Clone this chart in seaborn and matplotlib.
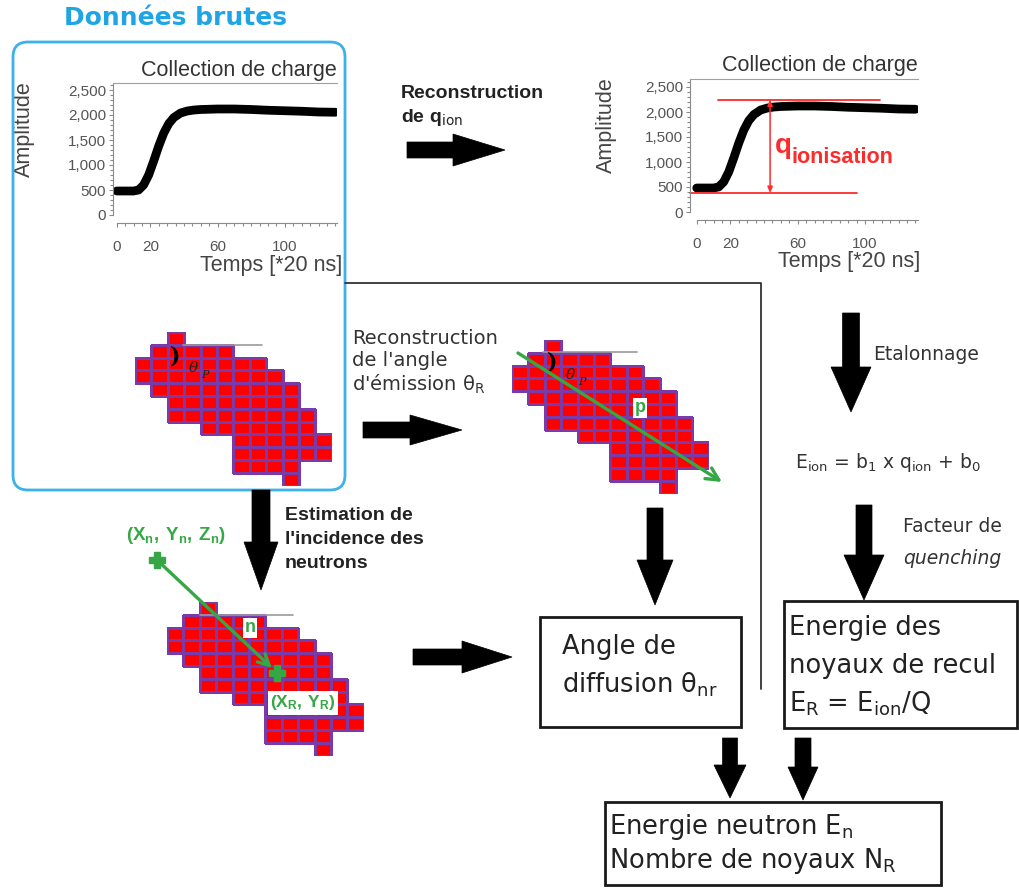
import numpy as np
import pandas as pd
import matplotlib
matplotlib.use("Agg")
import matplotlib.pyplot as plt
import seaborn as sns
from matplotlib.patches import FancyArrow, FancyBboxPatch, Rectangle
from matplotlib.colors import ListedColormap, to_rgba
from matplotlib.ticker import MultipleLocator, FixedLocator, FuncFormatter

# ---------------- data ----------------
temps = [0, 5, 10, 13, 16, 19, 22, 25, 28, 31, 34, 38, 42, 46, 50, 55, 60,
         70, 80, 90, 100, 110, 120, 130]
amplitude = [480, 480, 480, 500, 600, 800, 1080, 1380, 1640, 1830, 1950, 2040,
             2080, 2100, 2110, 2115, 2120, 2120, 2110, 2095, 2085, 2075, 2060, 2055]
y_tick_values = [0, 500, 1000, 1500, 2000, 2500]
x_tick_values = [0, 20, 60, 100]
q_top, q_base, q_x = 2248, 380, 43.6
q_top_span = (12.7, 109)
q_base_span = (-4, 95)
# pixel cluster: for each row, [first column, last column + 1)
cluster_rows = [(2, 3), (1, 6), (0, 8), (0, 9), (1, 10), (2, 10), (2, 11),
                (4, 11), (6, 12), (6, 12), (6, 10), (9, 10)]

W, H = 1019, 891
sns.set_style("white")
plt.rcParams['font.family'] = ['Liberation Sans', 'DejaVu Sans']
plt.rcParams['mathtext.fontset'] = 'custom'
plt.rcParams['mathtext.rm'] = 'DejaVu Sans'
plt.rcParams['mathtext.it'] = 'DejaVu Sans:italic'
plt.rcParams['mathtext.bf'] = 'Liberation Sans:bold'
plt.rcParams['mathtext.sf'] = 'DejaVu Sans'

fig = plt.figure(figsize=(W / 100, H / 100), dpi=100)
fig.patch.set_facecolor('white')


def rect(x0, y0, w, h):
    return [x0 / W, 1 - (y0 + h) / H, w / W, h / H]


GRAY = '#8a8a8a'
TXT = '#222222'


def charge_plot(x0, y0, w, h, xlim, ylim, title_pad, ylab_xy, xlab_xy):
    ax = fig.add_axes(rect(x0, y0, w, h))
    df = pd.DataFrame({'t': temps, 'a': amplitude})
    sns.lineplot(data=df, x='t', y='a', ax=ax, color='black', lw=6.3,
                 solid_capstyle='round')
    ax.set_xlim(*xlim)
    ax.set_ylim(*ylim)
    ax.set_facecolor('none')
    ax.spines['right'].set_visible(False)
    ax.spines['top'].set_color('#a0a0a0')
    ax.spines['left'].set_color(GRAY)
    ax.spines['bottom'].set_color(GRAY)
    ax.spines['bottom'].set_position(('outward', 5.8))
    ax.spines['bottom'].set_bounds(0, xlim[1])
    ax.yaxis.set_major_locator(FixedLocator(y_tick_values))
    ax.yaxis.set_minor_locator(MultipleLocator(100))
    ax.yaxis.set_major_formatter(FuncFormatter(lambda v, p: f"{int(v):,}"))
    ax.xaxis.set_major_locator(FixedLocator(x_tick_values))
    ax.xaxis.set_minor_locator(MultipleLocator(5))
    ax.tick_params(which='both', bottom=True, left=True, direction='out',
                   color=GRAY, width=0.8)
    ax.tick_params(which='major', length=3, labelsize=11, labelcolor='#555555')
    ax.tick_params(axis='x', which='major', pad=9)
    ax.tick_params(axis='y', which='major', pad=2)
    ax.tick_params(which='minor', length=2)
    ax.set_title('Collection de charge', loc='right', fontsize=15.5,
                 color='#333333', pad=title_pad)
    ax.set_ylabel('Amplitude', fontsize=15.5, color='#444444')
    ax.yaxis.set_label_coords(*ylab_xy)
    ax.set_xlabel('Temps [*20 ns]', fontsize=15.5, color='#444444', ha='right')
    ax.xaxis.set_label_coords(*xlab_xy)
    return ax


ax1 = charge_plot(113, 83, 224, 132, (-2.2, 131), (0, 2640), 5,
                  (-0.35, 0.65), (1.022, -0.30))
ax2 = charge_plot(690, 79, 228, 133, (-4, 131.5), (0, 2660), 6,
                  (-0.32, 0.654), (1.009, -0.29))

red = '#ff2a2a'
ax2.plot(list(q_top_span), [q_top, q_top], color=red, lw=1.3, clip_on=False)
ax2.plot(list(q_base_span), [q_base, q_base], color=red, lw=1.3, clip_on=False)
ax2.annotate('', xy=(q_x, q_top), xytext=(q_x, q_base),
             arrowprops=dict(arrowstyle='<|-|>,head_length=0.35,head_width=0.15',
                             color=red, lw=1.1, shrinkA=0, shrinkB=0))


def cluster(x0, y0):
    ax = fig.add_axes(rect(x0, y0, 12 * 16.4, 12 * 12.8))
    m = np.zeros((len(cluster_rows), 12))
    for r, (a, b) in enumerate(cluster_rows):
        m[r, a:b] = 1
    sns.heatmap(m, mask=(m == 0), cmap=ListedColormap(['#ff0000']), vmin=0, vmax=1,
                cbar=False, linewidths=0.8, linecolor='#7a3aa8',
                xticklabels=False, yticklabels=False, ax=ax)
    mesh = ax.collections[0]
    purple = to_rgba('#7a3aa8')
    mesh.set_edgecolor([purple if v else (0, 0, 0, 0) for v in m.ravel()])
    ax.set_axis_off()
    return ax


cluster(135, 332)
cluster(512, 340)
cluster(167, 602)

# ---------------- overlay for diagram ----------------
ov = fig.add_axes([0, 0, 1, 1])
ov.set_xlim(0, W)
ov.set_ylim(H, 0)
ov.axis('off')
ov.patch.set_alpha(0)

# title and blue box
ov.text(176, 18, 'Données brutes', fontsize=18, fontweight='bold',
        color='#1fa5e6', family='DejaVu Sans', ha='center', va='center')
ov.add_patch(FancyBboxPatch((13, 42), 332, 448,
                            boxstyle='round,pad=0,rounding_size=15',
                            ec='#3db1ea', fc='none', lw=2.0))

# thin connection line
ov.plot([345, 761, 761], [283, 283, 689], color='#333333', lw=1.3)


def fat_arrow(x, y, dx, dy, width=16, head_width=34, head_length=48):
    ov.add_patch(FancyArrow(x, y, dx, dy, width=width, head_width=head_width,
                            head_length=head_length, length_includes_head=True,
                            fc='black', ec='black', lw=0.5))


fat_arrow(407, 150, 98, 0, 16, 32, 52)
fat_arrow(363, 430, 99, 0, 16, 30, 52)
fat_arrow(261, 490, 0, 100, 18, 34, 48)
fat_arrow(851, 313, 0, 99, 17, 40, 45)
fat_arrow(864, 505, 0, 95, 16, 40, 45)
fat_arrow(655, 508, 0, 97, 16, 36, 45)
fat_arrow(413, 657, 99, 0, 16, 32, 50)
fat_arrow(730, 738, 0, 60, 15, 32, 33)
fat_arrow(803, 738, 0, 62, 16, 30, 33)

# labels of arrows
ov.text(401, 93, 'Reconstruction', fontsize=14, fontweight='bold', color=TXT,
        va='center')
ov.text(401, 118, r'de $\mathbf{q}_{\mathrm{ion}}$', fontsize=14,
        fontweight='bold', color=TXT, va='center')

for i, s in enumerate(['Reconstruction', "de l'angle",
                       r"d'émission $\mathrm{θ}_{\mathrm{R}}$"]):
    ov.text(352, 338 + 23 * i, s, fontsize=14, color='#333333',
            family='DejaVu Sans', va='center')

for i, s in enumerate(['Estimation de', "l'incidence des", 'neutrons']):
    ov.text(285, 515 + 24.5 * i, s, fontsize=14, fontweight='bold', color=TXT,
            va='center')

ov.text(873, 355, 'Etalonnage', fontsize=13.5, color='#333333',
        family='DejaVu Sans', va='center')
ov.text(888, 463,
        r'$\mathrm{E}_{\mathrm{ion}}$ = $\mathrm{b}_{\mathrm{1}}$ x '
        r'$\mathrm{q}_{\mathrm{ion}}$ + $\mathrm{b}_{\mathrm{0}}$',
        fontsize=13.5, color='#333333', family='DejaVu Sans', ha='center',
        va='center')
ov.text(903, 527, 'Facteur de', fontsize=13.5, color='#333333',
        family='DejaVu Sans', va='center')
ov.text(903, 558, 'quenching', fontsize=13.5, color='#333333',
        family='DejaVu Sans', style='italic', va='center')

# q ionisation label
ov.text(775, 153, 'q', fontsize=20, fontweight='bold', color=red, va='baseline')
ov.text(792, 163, 'ionisation', fontsize=15.5, fontweight='bold', color=red,
        va='baseline')

# boxes
def box(x0, y0, x1, y1, lines, ys, xt):
    ov.add_patch(Rectangle((x0, y0), x1 - x0, y1 - y0, fc='white',
                           ec='#1a1a1a', lw=2.0))
    for s, y in zip(lines, ys):
        ov.text(xt, y, s, fontsize=18.5, color=TXT, family='DejaVu Sans',
                va='center')


box(540, 617, 741, 727, ['Angle de', r'diffusion $\mathrm{θ}_{\mathrm{nr}}$'],
    [647, 685], 562)
box(784, 601, 1017, 728, ['Energie des', 'noyaux de recul',
                          r'$\mathrm{E}_{\mathrm{R}}$ = $\mathrm{E}_{\mathrm{ion}}$/Q'],
    [628, 666, 704], 789)
box(605, 802, 941, 885, [r'Energie neutron $\mathrm{E}_{\mathrm{n}}$',
                         r'Nombre de noyaux $\mathrm{N}_{\mathrm{R}}$'],
    [827, 861], 609)

# angle marks on clusters
for (lx0, lx1, ly) in [(183, 262, 345), (543, 637, 352), (200, 293, 615)]:
    ov.plot([lx0, lx1], [ly, ly], color='#9a9a9a', lw=1.2)
for (px, py) in [(175, 356), (552, 363)]:
    ov.text(px, py, ')', fontsize=16, color='black', family='DejaVu Serif',
            ha='center', va='center', fontweight='bold')
    ov.text(px + 18, py + 12, 'θ', fontsize=11, color='#222222',
            family='DejaVu Serif', style='italic', ha='center', va='center')
    ov.text(px + 30, py + 19, 'P', fontsize=8, color='#222222',
            family='DejaVu Serif', style='italic', ha='center', va='center')

green = '#35a845'
ov.annotate('', xy=(722, 482), xytext=(518, 353),
            arrowprops=dict(arrowstyle='->,head_length=0.9,head_width=0.45',
                            color=green, lw=2.4, shrinkA=0, shrinkB=0))
ov.text(640, 408, 'p', fontsize=13, fontweight='bold', color=green,
        ha='center', va='center',
        bbox=dict(fc='white', ec='none', pad=1.0))

ov.annotate('', xy=(272, 668), xytext=(157, 560),
            arrowprops=dict(arrowstyle='->,head_length=0.8,head_width=0.4',
                            color=green, lw=2.4, shrinkA=0, shrinkB=0))
ov.plot([157, 277], [560, 673], ls='none', marker='P', ms=11, color=green)
ov.text(250, 628, 'n', fontsize=13, fontweight='bold', color=green,
        ha='center', va='center', bbox=dict(fc='white', ec='none', pad=1.0))
ov.text(176, 535, r'$\mathbf{(X_n,\,Y_n,\,Z_n)}$', fontsize=13.5, color=green,
        ha='center', va='center')
ov.text(303, 703, r'$\mathbf{(X_R,\,Y_R)}$', fontsize=12.5, color=green,
        ha='center', va='center', bbox=dict(fc='white', ec='none', pad=1.5))

fig.savefig('out.png', dpi=100, facecolor='white')
